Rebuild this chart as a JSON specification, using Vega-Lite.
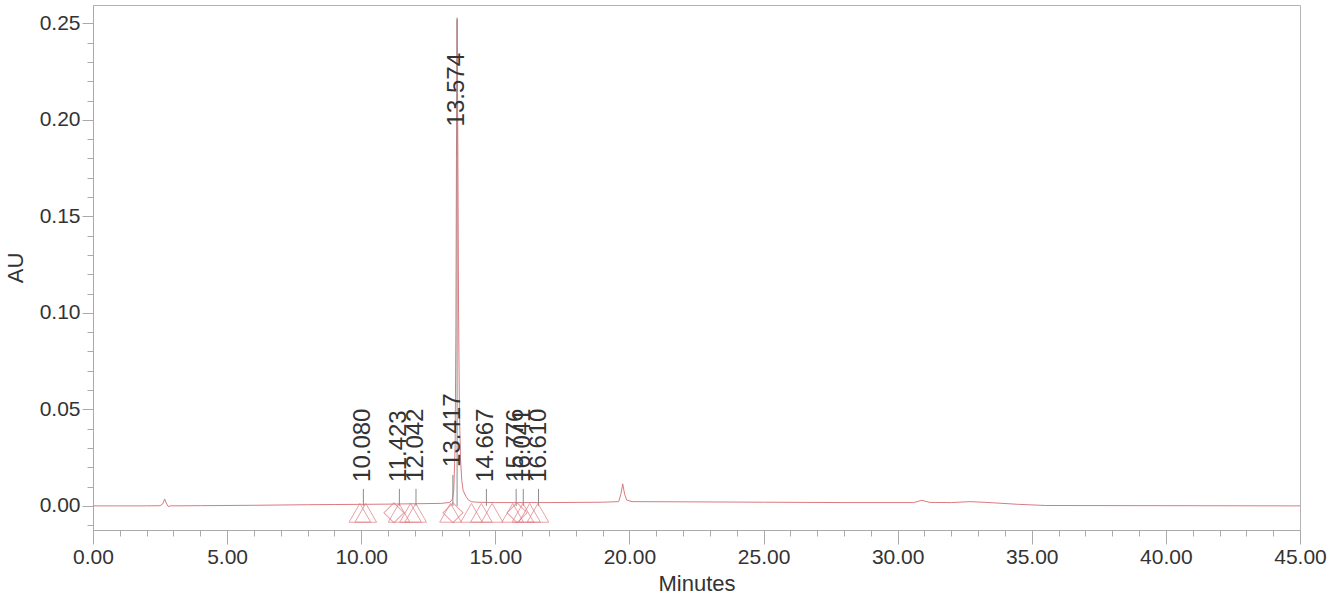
{
  "$schema": "https://vega.github.io/schema/vega-lite/v6.json",
  "width": 1207,
  "height": 525,
  "autosize": {"type": "none"},
  "padding": {"left": 93, "top": 5, "right": 42, "bottom": 67},
  "background": "white",
  "config": {
    "font": "Liberation Sans",
    "view": {"stroke": "#b4b4b4", "strokeWidth": 1},
    "axis": {"grid": false, "domainColor": "#aaaaaa", "tickColor": "#aaaaaa", "labelColor": "#333333", "titleColor": "#333333", "titleFontWeight": "normal"}
  },
  "datasets": {
    "trace": [
      {"t": 0, "au": 0.0},
      {"t": 1, "au": 0.0},
      {"t": 2, "au": 0.0},
      {"t": 2.5, "au": 0.0001},
      {"t": 2.6, "au": 0.001},
      {"t": 2.67, "au": 0.0036},
      {"t": 2.73, "au": 0.0015},
      {"t": 2.8, "au": -0.0003},
      {"t": 2.9, "au": 0.0},
      {"t": 4, "au": 0.0001},
      {"t": 6, "au": 0.0003},
      {"t": 8, "au": 0.0006},
      {"t": 9, "au": 0.0007},
      {"t": 10, "au": 0.0008},
      {"t": 11, "au": 0.0009},
      {"t": 12, "au": 0.0011},
      {"t": 13, "au": 0.0013},
      {"t": 13.3, "au": 0.0018},
      {"t": 13.4, "au": 0.0035},
      {"t": 13.45, "au": 0.008},
      {"t": 13.5, "au": 0.03},
      {"t": 13.53, "au": 0.09},
      {"t": 13.55, "au": 0.18},
      {"t": 13.574, "au": 0.252},
      {"t": 13.6, "au": 0.19},
      {"t": 13.63, "au": 0.1},
      {"t": 13.66, "au": 0.05},
      {"t": 13.7, "au": 0.025},
      {"t": 13.75, "au": 0.013},
      {"t": 13.8, "au": 0.008},
      {"t": 13.9, "au": 0.005},
      {"t": 14.0, "au": 0.003},
      {"t": 14.1, "au": 0.0022},
      {"t": 14.3, "au": 0.0019},
      {"t": 15, "au": 0.0017},
      {"t": 16, "au": 0.0017},
      {"t": 17, "au": 0.0017},
      {"t": 19, "au": 0.0019},
      {"t": 19.6, "au": 0.0022},
      {"t": 19.68, "au": 0.006},
      {"t": 19.75, "au": 0.0114},
      {"t": 19.82, "au": 0.006},
      {"t": 19.9, "au": 0.003},
      {"t": 20.1, "au": 0.0022},
      {"t": 22, "au": 0.0021},
      {"t": 25, "au": 0.0019},
      {"t": 28, "au": 0.0017},
      {"t": 30.6, "au": 0.0017},
      {"t": 30.9, "au": 0.0029},
      {"t": 31.2, "au": 0.0018},
      {"t": 32, "au": 0.0017},
      {"t": 32.7, "au": 0.0022},
      {"t": 33.3, "au": 0.0018},
      {"t": 34.5, "au": 0.0008},
      {"t": 35.5, "au": 0.0002},
      {"t": 40, "au": 0.0001},
      {"t": 45, "au": 0.0}
    ],
    "peaks": [
      {"rt": 10.08, "label": "10.080", "base": 0, "top": 0.0088, "ly": 0.0124},
      {"rt": 11.423, "label": "11.423", "base": 0, "top": 0.0088, "ly": 0.0124},
      {"rt": 12.042, "label": "12.042", "base": 0, "top": 0.0088, "ly": 0.0124},
      {"rt": 13.417, "label": "13.417", "base": 0, "top": 0.016, "ly": 0.0202},
      {"rt": 13.574, "label": "13.574", "base": 0, "top": 0.253, "ly": 0.1966},
      {"rt": 14.667, "label": "14.667", "base": 0, "top": 0.0088, "ly": 0.0124},
      {"rt": 15.776, "label": "15.776", "base": 0, "top": 0.0088, "ly": 0.0124},
      {"rt": 16.041, "label": "16.041", "base": 0, "top": 0.0088, "ly": 0.0124},
      {"rt": 16.61, "label": "16.610", "base": 0, "top": 0.0088, "ly": 0.0124}
    ],
    "markers": [
      {"t": 9.95, "kind": "triangle"},
      {"t": 10.17, "kind": "triangle"},
      {"t": 11.22, "kind": "diamond"},
      {"t": 11.41, "kind": "triangle"},
      {"t": 11.84, "kind": "triangle"},
      {"t": 12.03, "kind": "triangle"},
      {"t": 13.33, "kind": "triangle"},
      {"t": 13.42, "kind": "diamond"},
      {"t": 14.11, "kind": "triangle"},
      {"t": 14.48, "kind": "triangle"},
      {"t": 14.88, "kind": "triangle"},
      {"t": 15.65, "kind": "triangle"},
      {"t": 15.81, "kind": "diamond"},
      {"t": 16.03, "kind": "triangle"},
      {"t": 16.28, "kind": "triangle"},
      {"t": 16.59, "kind": "triangle"}
    ],
    "xminor": [
      {"v": 0},{"v": 1},{"v": 2},{"v": 3},{"v": 4},{"v": 5}
    ]
  },
  "layer": [
    {
      "data": {"name": "trace"},
      "mark": {"type": "line", "color": "#dc7a80", "strokeWidth": 1, "clip": true},
      "encoding": {
        "x": {"field": "t", "type": "quantitative", "scale": {"domain": [0, 45], "nice": false, "zero": false},
          "axis": {"values": [0, 5, 10, 15, 20, 25, 30, 35, 40, 45], "format": ".2f", "tickSize": 14, "labelPadding": 2, "labelFontSize": 21, "labelFlush": false, "labelOverlap": false, "labelBound": false, "title": "Minutes", "titleFontSize": 22, "titlePadding": 6, "orient": "bottom"}},
        "y": {"field": "au", "type": "quantitative", "scale": {"domain": [-0.0125, 0.2595], "nice": false, "zero": false},
          "axis": {"values": [0, 0.05, 0.1, 0.15, 0.2, 0.25], "format": ".2f", "tickSize": 11, "labelPadding": 2, "labelFontSize": 21, "labelOverlap": false, "title": "AU", "titleFontSize": 22, "titlePadding": 12, "orient": "left"}}
      }
    },
    {
      "data": {"name": "peaks"},
      "mark": {"type": "rule", "color": "#8c8c8c", "strokeWidth": 1},
      "encoding": {
        "x": {"field": "rt", "type": "quantitative", "axis": null},
        "y": {"field": "base", "type": "quantitative", "axis": null},
        "y2": {"field": "top"}
      }
    },
    {
      "data": {"name": "peaks"},
      "mark": {"type": "text", "angle": 270, "align": "left", "baseline": "middle", "fontSize": 24, "color": "#333333"},
      "encoding": {
        "x": {"field": "rt", "type": "quantitative", "axis": null},
        "y": {"field": "ly", "type": "quantitative", "axis": null},
        "text": {"field": "label"}
      }
    },
    {
      "data": {"name": "markers"},
      "transform": [{"filter": "datum.kind === 'triangle'"}],
      "mark": {"type": "point", "shape": "triangle-up", "size": 470, "filled": false, "stroke": "#e07a80", "strokeWidth": 1},
      "encoding": {
        "x": {"field": "t", "type": "quantitative", "axis": null},
        "y": {"datum": -0.0036, "type": "quantitative", "axis": null}
      }
    },
    {
      "data": {"name": "markers"},
      "transform": [{"filter": "datum.kind === 'diamond'"}],
      "mark": {"type": "point", "shape": "square", "angle": 45, "size": 200, "filled": false, "stroke": "#e07a80", "strokeWidth": 1},
      "encoding": {
        "x": {"field": "t", "type": "quantitative",
          "axis": {"values": [0,1,2,3,4,5,6,7,8,9,10,11,12,13,14,15,16,17,18,19,20,21,22,23,24,25,26,27,28,29,30,31,32,33,34,35,36,37,38,39,40,41,42,43,44,45], "tickSize": 6, "labels": false, "domain": false, "title": null, "orient": "bottom"}},
        "y": {"datum": -0.0036, "type": "quantitative",
          "axis": {"values": [-0.01,0,0.01,0.02,0.03,0.04,0.05,0.06,0.07,0.08,0.09,0.1,0.11,0.12,0.13,0.14,0.15,0.16,0.17,0.18,0.19,0.2,0.21,0.22,0.23,0.24,0.25], "tickSize": 6, "labels": false, "domain": false, "title": null, "orient": "left"}}
      }
    }
  ],
  "resolve": {"scale": {"x": "shared", "y": "shared"}, "axis": {"x": "independent", "y": "independent"}}
}
